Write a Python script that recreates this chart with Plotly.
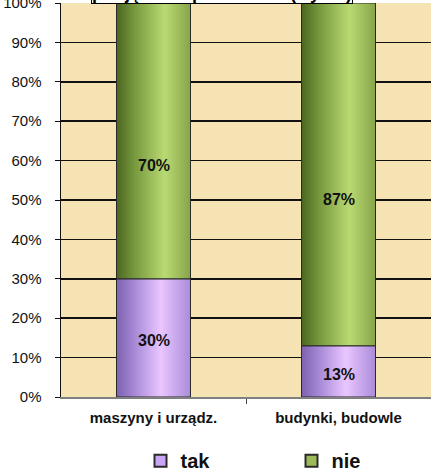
import plotly.graph_objects as go

categories = ["maszyny i urządz.", "budynki, budowle"]
series_names = ["tak", "nie"]
tak_values = [30, 13]
nie_values = [70, 87]
y_ticks = [0, 10, 20, 30, 40, 50, 60, 70, 80, 90, 100]
y_tick_labels = [f"{v}%" for v in y_ticks]
title_text = "podjęte tak planowane (wynik)"

FONT = "Arial, Liberation Sans, sans-serif"
BAR_W = 0.4
colors = {"tak": "#C9A6F5", "nie": "#9CBB58"}
gradients = {
    "tak": [[0, "#7E62AE"], [0.25, "#A88AD8"], [0.6, "#EAC6FF"], [1, "#A98BD9"]],
    "nie": [[0, "#4B6620"], [0.25, "#789A3F"], [0.65, "#B9DA72"], [1, "#86A54A"]],
}

x_idx = list(range(len(categories)))
fig = go.Figure()

series = [("tak", tak_values), ("nie", nie_values)]
bases = [0] * len(categories)
for name, vals in series:
    fig.add_trace(go.Bar(
        x=x_idx, y=vals, base=bases, width=BAR_W, name=f"<b>{name}</b>",
        marker=dict(color=colors[name], line=dict(color="#2a2a2a", width=1)),
        hoverinfo="skip",
    ))
    # gradient overlay for cylinder look
    for i, (b, v) in enumerate(zip(bases, vals)):
        x0, x1 = i - BAR_W / 2, i + BAR_W / 2
        fig.add_trace(go.Scatter(
            x=[x0, x1, x1, x0, x0], y=[b, b, b + v, b + v, b],
            mode="lines", fill="toself",
            fillgradient=dict(type="horizontal", colorscale=gradients[name]),
            line=dict(color="#2a2a2a", width=1),
            showlegend=False, hoverinfo="skip",
        ))
    bases = [b + v for b, v in zip(bases, vals)]

# data labels
bases = [0] * len(categories)
for k, (name, vals) in enumerate(series):
    for i, (b, v) in enumerate(zip(bases, vals)):
        fig.add_annotation(
            x=i, y=b + v / 2, text=f"<b>{v}%</b>", showarrow=False,
            font=dict(family=FONT, size=16, color="#111"),
            yshift=(-25 if k == 1 else -3),
        )
    bases = [b + v for b, v in zip(bases, vals)]

fig.add_annotation(
    xref="paper", yref="paper", x=0.434, y=1, yanchor="bottom", yshift=-1,
    text=f"<b>{title_text}</b>", showarrow=False,
    font=dict(family=FONT, size=18, color="#000"),
    bgcolor="white", bordercolor="#000", borderwidth=1, borderpad=0,
    width=260,
)

fig.update_layout(
    width=431, height=472,
    margin=dict(l=61, r=0, t=3, b=75),
    paper_bgcolor="white", plot_bgcolor="#F6E3B4",
    barmode="overlay",
    showlegend=True,
    legend=dict(
        orientation="h", xref="container", yref="container",
        x=0.326, xanchor="left", y=0.024, yanchor="middle",
        font=dict(family=FONT, size=20, color="#111"),
        entrywidth=106, itemsizing="constant", traceorder="normal",
        bgcolor="rgba(0,0,0,0)",
    ),
    font=dict(family=FONT, color="#111"),
)
fig.update_xaxes(
    range=[-0.5, 1.5], tickvals=x_idx,
    ticktext=[f"<b>{c}</b>" for c in categories],
    tickfont=dict(family=FONT, size=15, color="#111"),
    ticks="", showgrid=False, zeroline=False,
    showline=True, linecolor="#808080", linewidth=1.5,
    minor=dict(tickvals=[0.5], ticks="outside", ticklen=5, tickcolor="#444", showgrid=False),
    ticklabelstandoff=6,
    automargin=False, fixedrange=True,
)
fig.update_yaxes(
    range=[0, 100], tickvals=y_ticks, ticktext=y_tick_labels,
    tickfont=dict(family=FONT, size=15, color="#111"),
    ticks="outside", ticklen=5, tickcolor="#111",
    showgrid=True, gridcolor="#111", gridwidth=1.5,
    zeroline=False, showline=True, linecolor="#111", linewidth=1.5,
    ticklabelstandoff=10, ticklabeloverflow="allow",
    automargin=False, fixedrange=True,
)

fig.write_html(
    "out.html",
    config={"displayModeBar": False, "staticPlot": True},
    post_script="document.body.style.margin='0';document.body.style.overflow='hidden';",
)
